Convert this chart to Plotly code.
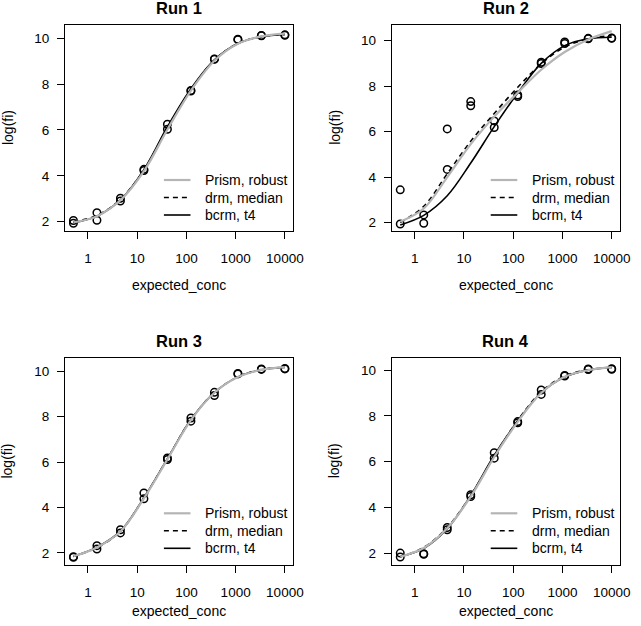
import plotly.graph_objects as go

# ---------------- data ----------------
conc = [0.508, 1.524, 4.572, 13.717, 41.152, 123.457, 370.37, 1111.11, 3333.33, 10000]

x_tick_vals = [1, 10, 100, 1000, 10000]
x_tick_text = ["1", "10", "100", "1000", "10000"]
y_tick_vals = [2, 4, 6, 8, 10]

run_titles = ["Run 1", "Run 2", "Run 3", "Run 4"]
x_title = "expected_conc"
y_title = "log(fi)"
legend_labels = ["Prism, robust", "drm, median", "bcrm, t4"]

# observed replicates (two per concentration)
run1_rep_a = [2.05, 2.39, 3.02, 4.28, 6.25, 7.72, 9.10, 9.96, 10.12, 10.15]
run1_rep_b = [1.93, 2.06, 2.90, 4.23, 6.03, 7.70, 9.08, 9.94, 10.11, 10.13]
run2_rep_a = [3.44, 2.34, 6.12, 7.32, 6.47, 7.61, 9.05, 9.94, 10.10, 10.12]
run2_rep_b = [1.94, 1.97, 4.34, 7.14, 6.18, 7.54, 8.99, 9.87, 10.08, 10.10]
run3_rep_a = [1.83, 2.32, 3.02, 4.64, 6.18, 7.94, 9.07, 9.90, 10.10, 10.12]
run3_rep_b = [1.81, 2.17, 2.88, 4.38, 6.11, 7.80, 8.93, 9.88, 10.08, 10.10]
run4_rep_a = [2.00, 1.97, 3.12, 4.55, 6.39, 7.75, 9.13, 9.77, 10.05, 10.06]
run4_rep_b = [1.83, 1.95, 3.02, 4.47, 6.15, 7.70, 8.94, 9.74, 10.03, 10.04]

# fitted curves, read at each concentration
run1_prism = [1.97, 2.24, 2.93, 4.20, 6.02, 7.72, 9.02, 9.76, 10.08, 10.20]
run1_drm   = [1.99, 2.27, 2.97, 4.26, 6.10, 7.75, 9.05, 9.78, 10.07, 10.17]
run1_bcrm  = [1.95, 2.24, 2.95, 4.27, 6.14, 7.80, 9.06, 9.77, 10.07, 10.17]

run2_prism = [2.04, 2.62, 4.00, 5.45, 6.66, 7.71, 8.72, 9.50, 10.05, 10.42]
run2_drm   = [2.00, 2.72, 4.15, 5.58, 6.80, 7.95, 8.98, 9.72, 10.08, 10.22]
run2_bcrm  = [1.90, 2.32, 3.18, 4.62, 6.22, 7.70, 9.00, 9.78, 10.08, 10.15]

run3_prism = [1.85, 2.24, 2.94, 4.40, 6.12, 7.85, 9.05, 9.74, 10.06, 10.18]
run3_drm   = [1.84, 2.23, 2.95, 4.42, 6.14, 7.87, 9.06, 9.75, 10.07, 10.18]
run3_bcrm  = [1.85, 2.25, 2.96, 4.43, 6.15, 7.87, 9.06, 9.75, 10.06, 10.17]

run4_prism = [1.84, 2.22, 3.08, 4.47, 6.20, 7.74, 9.00, 9.71, 10.00, 10.13]
run4_drm   = [1.83, 2.25, 3.12, 4.52, 6.24, 7.80, 9.05, 9.74, 10.02, 10.12]
run4_bcrm  = [1.85, 2.20, 3.06, 4.52, 6.28, 7.78, 9.01, 9.70, 10.00, 10.12]

reps = [(run1_rep_a, run1_rep_b), (run2_rep_a, run2_rep_b),
        (run3_rep_a, run3_rep_b), (run4_rep_a, run4_rep_b)]
curves = [(run1_prism, run1_drm, run1_bcrm), (run2_prism, run2_drm, run2_bcrm),
          (run3_prism, run3_drm, run3_bcrm), (run4_prism, run4_drm, run4_bcrm)]

# ---------------- layout geometry ----------------
W, H = 641, 626
FONT = "Liberation Sans, Arial, Helvetica, sans-serif"
col_px = [(66, 298), (398, 630)]
row_px = [(24.5, 230.8), (357.8, 564.5)]
y_ranges = [[1.60, 10.60], [1.64, 10.71], [1.49, 10.59], [1.50, 10.54]]
x_range = [-0.466, 4.172]
xtitle_offset = [54, 54, 46.5, 46.5]

styles = [
    dict(color="#b5b5b5", width=2.2, dash="solid"),
    dict(color="black", width=1.6, dash="5px,4px"),
    dict(color="black", width=1.6, dash="solid"),
]
draw_order = [2, 1, 0]

fig = go.Figure()
layout = dict(
    width=W, height=H, margin=dict(l=0, r=0, t=0, b=0),
    paper_bgcolor="white", plot_bgcolor="white", showlegend=False,
    font=dict(family=FONT, color="black", size=14),
)
annotations = []
shapes = []

for i in range(4):
    r, c = divmod(i, 2)
    sfx = "" if i == 0 else str(i + 1)
    xa, ya = "x" + sfx, "y" + sfx
    x0p, x1p = col_px[c]
    y0p, y1p = row_px[r]
    layout["xaxis" + sfx] = dict(
        domain=[x0p / W, x1p / W], anchor=ya, type="log", range=x_range,
        tickmode="array", tickvals=x_tick_vals, ticktext=x_tick_text,
        ticks="outside", ticklen=7, tickwidth=1, tickcolor="black",
        showline=True, linecolor="black", linewidth=1, mirror=True,
        showgrid=False, zeroline=False, ticklabelstandoff=8,
        tickfont=dict(size=13.5, family=FONT, color="black"),
    )
    layout["yaxis" + sfx] = dict(
        domain=[(H - y1p) / H, (H - y0p) / H], anchor=xa, range=y_ranges[i],
        tickmode="array", tickvals=y_tick_vals,
        ticks="outside", ticklen=7, tickwidth=1, tickcolor="black",
        showline=True, linecolor="black", linewidth=1, mirror=True,
        showgrid=False, zeroline=False, ticklabelstandoff=5,
        tickfont=dict(size=13.5, family=FONT, color="black"),
    )
    pw, ph = x1p - x0p, y1p - y0p

    # points
    for rep in reps[i]:
        fig.add_trace(go.Scatter(
            x=conc, y=rep, mode="markers", xaxis=xa, yaxis=ya,
            marker=dict(symbol="circle-open", size=7.5, color="black",
                        line=dict(width=1.5, color="black")),
            hoverinfo="x+y", showlegend=False,
        ))
    # curves
    for k in draw_order:
        fig.add_trace(go.Scatter(
            x=conc, y=curves[i][k], mode="lines", xaxis=xa, yaxis=ya,
            name=legend_labels[k], line=dict(shape="spline", smoothing=1.0, **styles[k]),
            showlegend=False,
        ))

    # title
    annotations.append(dict(
        text=run_titles[i], xref=xa + " domain", yref=ya + " domain",
        x=0.5, y=1 + 16.6 / ph, xanchor="center", yanchor="middle", showarrow=False,
        font=dict(size=16.5, family=FONT, color="black", weight="bold"),
    ))
    # axis titles
    annotations.append(dict(
        text=x_title, xref=xa + " domain", yref=ya + " domain",
        x=0.5, y=-xtitle_offset[i] / ph, xanchor="center", yanchor="middle",
        showarrow=False, font=dict(size=14, family=FONT, color="black"),
    ))
    annotations.append(dict(
        text=y_title, xref=xa + " domain", yref=ya + " domain",
        x=-58.5 / pw, y=0.5, xanchor="center", yanchor="middle", textangle=-90,
        showarrow=False, font=dict(size=14, family=FONT, color="black"),
    ))
    # legend (drawn in panel-relative coordinates)
    for j, lab in enumerate(legend_labels):
        yy = 1 - (155.5 + 17.5 * j) / ph
        st = styles[j]
        shapes.append(dict(
            type="line", xref=xa + " domain", yref=ya + " domain",
            x0=100.5 / pw, x1=127.5 / pw, y0=yy, y1=yy,
            line=dict(color=st["color"], width=st["width"], dash=st["dash"]),
        ))
        annotations.append(dict(
            text=lab, xref=xa + " domain", yref=ya + " domain",
            x=140.5 / pw, y=yy, xanchor="left", yanchor="middle", showarrow=False,
            font=dict(size=14, family=FONT, color="black"),
        ))

layout["annotations"] = annotations
layout["shapes"] = shapes
fig.update_layout(**layout)
fig.write_html(
    "out.html",
    config={"displayModeBar": False},
    post_script="document.body.style.margin='0';document.body.style.padding='0';",
)
